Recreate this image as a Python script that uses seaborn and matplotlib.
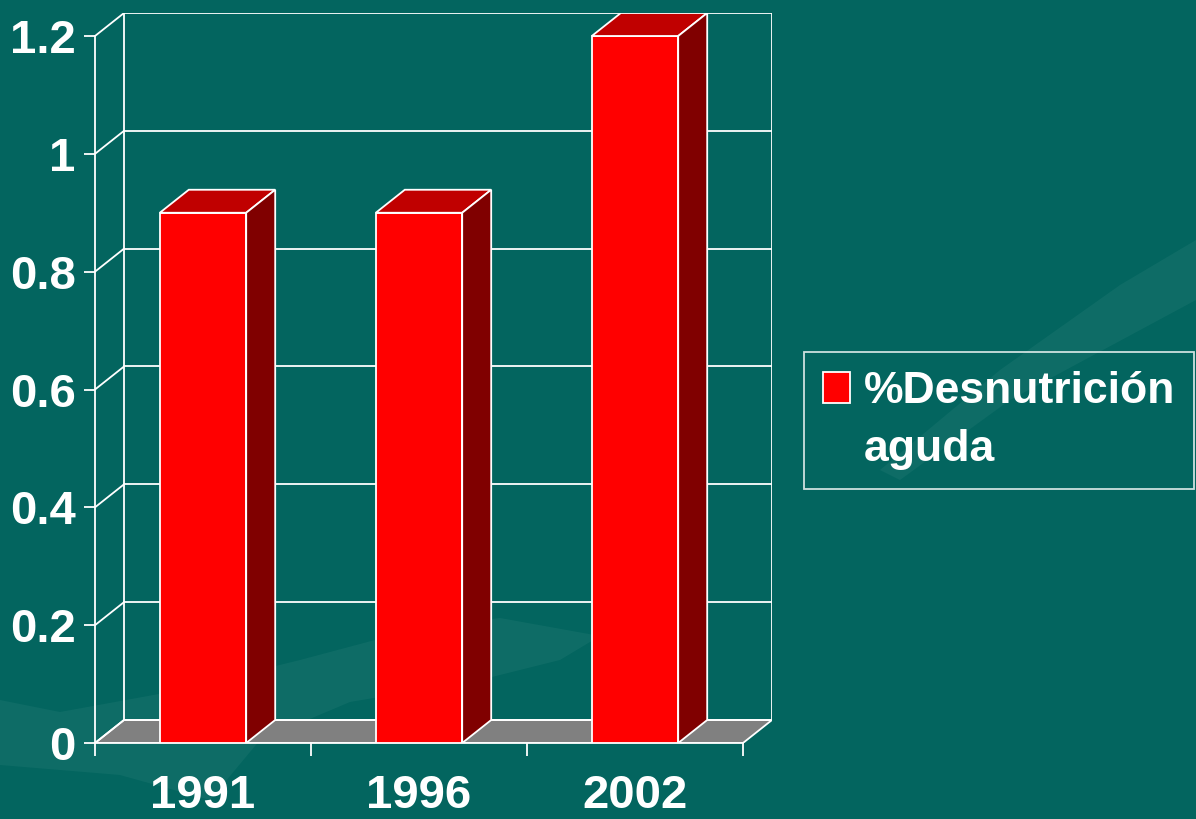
import pandas as pd
import matplotlib
matplotlib.use("Agg")
import matplotlib.pyplot as plt
import seaborn as sns
from matplotlib.patches import Polygon, Patch, Rectangle
from matplotlib.legend_handler import HandlerPatch

years = ["1991", "1996", "2002"]
values = [0.9, 0.9, 1.2]
series_name = "%Desnutrición\naguda"
y_ticks = [0, 0.2, 0.4, 0.6, 0.8, 1, 1.2]
y_ticklabels = ["0", "0.2", "0.4", "0.6", "0.8", "1", "1.2"]

BG = "#03655f"
FRONT = "#ff0000"
TOP = "#c00000"
SIDE = "#800000"
FLOOR = "#808080"
LW = 1.3

# depth of the fake 3d box (in data units)
DX = 29 / 216
DY = 23 / 589

W, H = 1196, 819

sns.set_theme(style="white")
plt.rcParams["font.family"] = ["Liberation Sans Narrow", "Liberation Sans", "DejaVu Sans"]
plt.rcParams["font.weight"] = "bold"

fig = plt.figure(figsize=(W / 100, H / 100), dpi=100, facecolor=BG)


def px(points):
    return [(x / W, 1 - y / H) for x, y in points]


# faint swooshes of the slide background
swoosh1 = [(0, 700), (60, 712), (170, 692), (300, 660), (420, 628), (500, 618),
           (600, 636), (560, 660), (480, 680), (350, 702), (260, 740), (210, 800),
           (120, 775), (0, 765)]
swoosh2 = [(900, 480), (1010, 400), (1196, 300), (1196, 240), (1120, 285),
           (1000, 370), (880, 470)]
for s in (swoosh1, swoosh2):
    fig.add_artist(Polygon(px(s), closed=True, fc="#9fd0c8", ec="none", alpha=0.07,
                           transform=fig.transFigure, zorder=0))

ax = fig.add_axes([95 / W, 76 / H, 677 / W, 730 / H])
ax.set_facecolor("none")

df = pd.DataFrame({"year": years, "value": values})
sns.barplot(data=df, x="year", y="value", color=FRONT, width=0.4, saturation=1,
            edgecolor="white", linewidth=LW, zorder=5, ax=ax)

# side and top faces of each bar
for p in list(ax.patches):
    x0, w, h = p.get_x(), p.get_width(), p.get_height()
    x1 = x0 + w
    ax.add_patch(Polygon([(x0, h), (x1, h), (x1 + DX, h + DY), (x0 + DX, h + DY)],
                         closed=True, fc=TOP, ec="white", lw=LW, zorder=5))
    ax.add_patch(Polygon([(x1, 0), (x1 + DX, DY), (x1 + DX, h + DY), (x1, h)],
                         closed=True, fc=SIDE, ec="white", lw=LW, zorder=5))

xl, xr = -0.5, len(years) - 0.5
top = y_ticks[-1]

# floor
ax.add_patch(Polygon([(xl, 0), (xr, 0), (xr + DX, DY), (xl + DX, DY)],
                     closed=True, fc=FLOOR, ec="white", lw=LW, zorder=1))
# back wall + side wall lines
for y in y_ticks:
    ax.plot([xl + DX, xr + DX], [y + DY, y + DY], color="white", lw=LW, zorder=2)
    ax.plot([xl, xl + DX], [y, y + DY], color="white", lw=LW, zorder=2)
ax.plot([xl + DX, xl + DX], [DY, top + DY], color="white", lw=LW, zorder=2)
ax.plot([xr + DX, xr + DX], [DY, top + DY], color="white", lw=LW, zorder=2)

ax.set_xlim(xl, xr + DX)
ax.set_ylim(0, top + DY)

for side in ["top", "right"]:
    ax.spines[side].set_visible(False)
ax.spines["left"].set_bounds(0, top)
ax.spines["bottom"].set_bounds(xl, xr)
for side in ["left", "bottom"]:
    ax.spines[side].set_color("white")
    ax.spines[side].set_linewidth(LW)

ax.set_yticks(y_ticks, labels=y_ticklabels)
ax.tick_params(axis="y", left=True, length=8, width=LW, color="white", pad=6,
               labelsize=34, labelcolor="white")
ax.set_xticks([xl, 0.5, 1.5, xr], labels=["", "", "", ""])
ax.set_xticks(range(len(years)), labels=years, minor=True)
ax.tick_params(axis="x", which="major", bottom=True, length=9, width=LW, color="white")
ax.tick_params(axis="x", which="minor", bottom=True, length=0, pad=22,
               labelsize=34, labelcolor="white")
ax.set_xlabel("")
ax.set_ylabel("")


def first_line_handle(legend, orig_handle, xdescent, ydescent, width, height, fontsize):
    return Rectangle((-xdescent, -ydescent + 24), width, height)


leg = ax.legend(handles=[Patch(fc=FRONT, ec="white", lw=LW)], labels=[series_name],
                loc="upper left", bbox_to_anchor=(804 / W, 1 - 352 / H),
                bbox_transform=fig.transFigure, fancybox=False, frameon=True,
                edgecolor="white", facecolor="none", fontsize=32, labelcolor="white",
                handlelength=0.62, handleheight=0.72, handletextpad=0.3, borderpad=0.42,
                borderaxespad=0, handler_map={Patch: HandlerPatch(patch_func=first_line_handle)})
leg.get_frame().set_linewidth(LW)
leg.get_texts()[0].set_linespacing(1.55)

fig.savefig("out.png", dpi=100, facecolor=BG)
